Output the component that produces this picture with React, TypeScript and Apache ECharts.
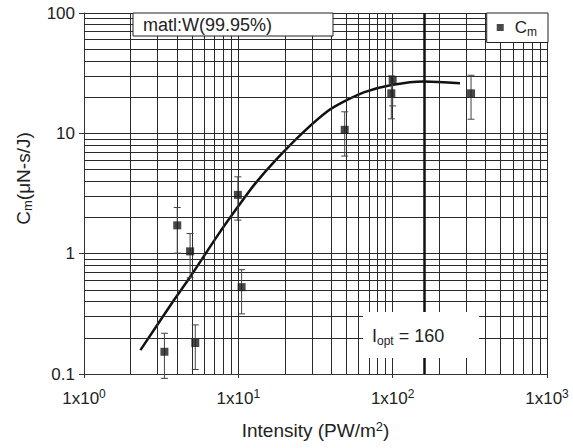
import React, { useEffect, useRef } from "react";
import * as echarts from "echarts";

const intensity = [3.32, 4.02, 4.87, 5.26, 9.93, 10.5, 48.9, 98, 100, 322];
const cm = [0.153, 1.72, 1.045, 0.181, 3.08, 0.527, 10.7, 21.5, 27.8, 21.5];
const errLow = [0.092, 1.01, 0.63, 0.109, 1.9, 0.316, 6.47, 13.2, 16.9, 13.1];
const errHigh = [0.218, 2.42, 1.47, 0.256, 4.35, 0.736, 15.1, 30, 39.8, 30.4];

// fitted curve
const fitX = [2.32, 3.81, 4.87, 7.35, 9.93, 12.7, 17.7, 25.9, 38, 48.9, 65.7, 100, 158, 273];
const fitY = [0.158, 0.408, 0.64, 1.42, 2.45, 3.75, 6.1, 10, 15.3, 18.5, 22.0, 25.3, 27, 26.1];

const iOpt = 160;

// grid (minor) line positions
const gridX = [2, 3, 4, 5, 6, 7, 8, 9, 20, 30, 40, 50, 60, 70, 80, 90, 200, 300, 400, 500, 600, 700, 800, 900];
const gridY = [0.2, 0.3, 0.4, 0.5, 0.6, 0.7, 0.8, 0.9, 2, 3, 4, 5, 6, 7, 8, 9, 20, 30, 40, 50, 60, 70, 80, 90];

const FONT = "'Liberation Sans', Arial, Helvetica, sans-serif";
const INK = "#222";

export default function App() {
  const ref = useRef<HTMLDivElement>(null);
  useEffect(() => {
    if (!ref.current) return;
    document.body.style.margin = "0";
    const chart = echarts.init(ref.current, null, { renderer: "svg" });
    const gridLine = { color: "#2a2a2a", width: 1, type: "solid" };
    chart.setOption({
      animation: false,
      backgroundColor: "#fff",
      textStyle: { fontFamily: FONT, color: INK },
      grid: { left: 84, right: 26, top: 13, bottom: 74 },
      legend: {
        data: ["Cm"],
        right: 25,
        top: 13,
        backgroundColor: "#fff",
        borderColor: INK,
        borderWidth: 1,
        borderRadius: 0,
        padding: [6, 11, 5, 10],
        itemWidth: 7,
        itemHeight: 7,
        icon: "rect",
        z: 20,
        formatter: () => "{a|C}{b|m}",
        textStyle: {
          fontFamily: FONT,
          color: INK,
          rich: {
            a: { fontSize: 17, fontFamily: FONT, color: INK, padding: [0, 0, 0, 6] },
            b: { fontSize: 12, fontFamily: FONT, color: INK, padding: [8, 0, 0, 0] },
          },
        },
      },
      xAxis: {
        type: "log",
        logBase: 10,
        min: 1,
        max: 1000,
        name: "Intensity (PW/m{s|2})",
        nameLocation: "middle",
        nameGap: 46,
        nameTextStyle: {
          fontSize: 19,
          fontFamily: FONT,
          color: INK,
          rich: { s: { fontSize: 13, fontFamily: FONT, color: INK, padding: [0, 0, 8, 0] } },
        },
        axisLine: { show: true, lineStyle: { color: "#333", width: 1 } },
        axisTick: { show: true, length: 4, lineStyle: { color: "#333" } },
        axisLabel: {
          margin: 14,
          formatter: (v: number) => `{b|1x10}{s|${Math.round(Math.log10(v))}}`,
          rich: {
            b: { fontSize: 17, fontFamily: FONT, color: INK },
            s: { fontSize: 12, fontFamily: FONT, color: INK, padding: [0, 0, 8, 0] },
          },
        },
        splitLine: { show: true, lineStyle: gridLine },
      },
      yAxis: {
        type: "log",
        logBase: 10,
        min: 0.1,
        max: 100,
        name: "{a|C}{b|m}{a|(μN-s/J)}",
        nameLocation: "middle",
        nameGap: 50,
        nameRotate: 90,
        nameTextStyle: {
          padding: [0, 0, 0, 30],
          rich: {
            a: { fontSize: 19, fontFamily: FONT, color: INK },
            b: { fontSize: 13, fontFamily: FONT, color: INK, padding: [8, 0, 0, 0] },
          },
        },
        axisLine: { show: true, lineStyle: { color: "#333", width: 1 } },
        axisTick: { show: true, length: 5, lineStyle: { color: "#333" } },
        axisLabel: {
          margin: 9,
          fontSize: 17,
          fontFamily: FONT,
          color: INK,
          formatter: (v: number) => {
            const r = Math.round(v * 10) / 10;
            return r < 1 ? r.toFixed(1) : String(Math.round(r));
          },
        },
        splitLine: { show: true, lineStyle: gridLine },
      },
      series: [
        {
          name: "grid",
          type: "line",
          data: [],
          silent: true,
          z: 1,
          markLine: {
            silent: true,
            symbol: "none",
            label: { show: false },
            lineStyle: gridLine,
            emphasis: { disabled: true },
            data: [
              ...gridX.map((x) => ({ xAxis: x })),
              ...gridY.map((y) => ({ yAxis: y })),
            ],
          },
        },
        {
          name: "iopt",
          type: "line",
          data: [],
          silent: true,
          z: 3,
          markLine: {
            silent: true,
            symbol: "none",
            label: { show: false },
            lineStyle: { color: "#111", width: 2.5, type: "solid" },
            emphasis: { disabled: true },
            data: [{ xAxis: iOpt }],
          },
        },
        {
          name: "fit",
          type: "line",
          data: fitX.map((x, i) => [x, fitY[i]]),
          smooth: 0.3,
          showSymbol: false,
          symbol: "none",
          z: 4,
          lineStyle: { color: "#111", width: 2.5 },
        },
        {
          name: "err",
          type: "custom",
          z: 5,
          data: intensity.map((x, i) => [x, errLow[i], errHigh[i]]),
          renderItem: (params: any, api: any) => {
            const x = api.value(0);
            const lo = api.coord([x, api.value(1)]);
            const hi = api.coord([x, api.value(2)]);
            const w = 3.5;
            const style = { stroke: "#444", lineWidth: 1 };
            return {
              type: "group",
              children: [
                { type: "line", shape: { x1: lo[0], y1: lo[1], x2: hi[0], y2: hi[1] }, style },
                { type: "line", shape: { x1: lo[0] - w, y1: lo[1], x2: lo[0] + w, y2: lo[1] }, style },
                { type: "line", shape: { x1: hi[0] - w, y1: hi[1], x2: hi[0] + w, y2: hi[1] }, style },
              ],
            };
          },
        },
        {
          name: "Cm",
          type: "scatter",
          z: 6,
          symbol: "rect",
          symbolSize: 8,
          itemStyle: { color: "#1a1a1a" },
          data: intensity.map((x, i) => [x, cm[i]]),
        },
      ],
      graphic: [
        {
          type: "rect",
          z: 100,
          shape: { x: 133, y: 13, width: 200, height: 23 },
          style: { fill: "#fff", stroke: INK, lineWidth: 1 },
        },
        {
          type: "text",
          z: 101,
          x: 143,
          y: 25,
          style: { text: "matl:W(99.95%)", font: `18px ${FONT}`, fill: INK, verticalAlign: "middle" },
        },
        {
          type: "rect",
          z: 100,
          shape: { x: 363, y: 312, width: 116, height: 46 },
          style: { fill: "#fff" },
        },
        {
          type: "text",
          z: 101,
          x: 372,
          y: 336,
          style: {
            text: "{a|I}{b|opt}{a| = 160}",
            verticalAlign: "middle",
            rich: {
              a: { fontSize: 18, fontFamily: FONT, fill: INK },
              b: { fontSize: 12, fontFamily: FONT, fill: INK, padding: [9, 0, 0, 0] },
            },
          },
        },
      ],
    });
    return () => chart.dispose();
  }, []);
  return (
    <div
      ref={ref}
      style={{ position: "absolute", left: 0, top: 0, width: 573, height: 448 }}
    />
  );
}
